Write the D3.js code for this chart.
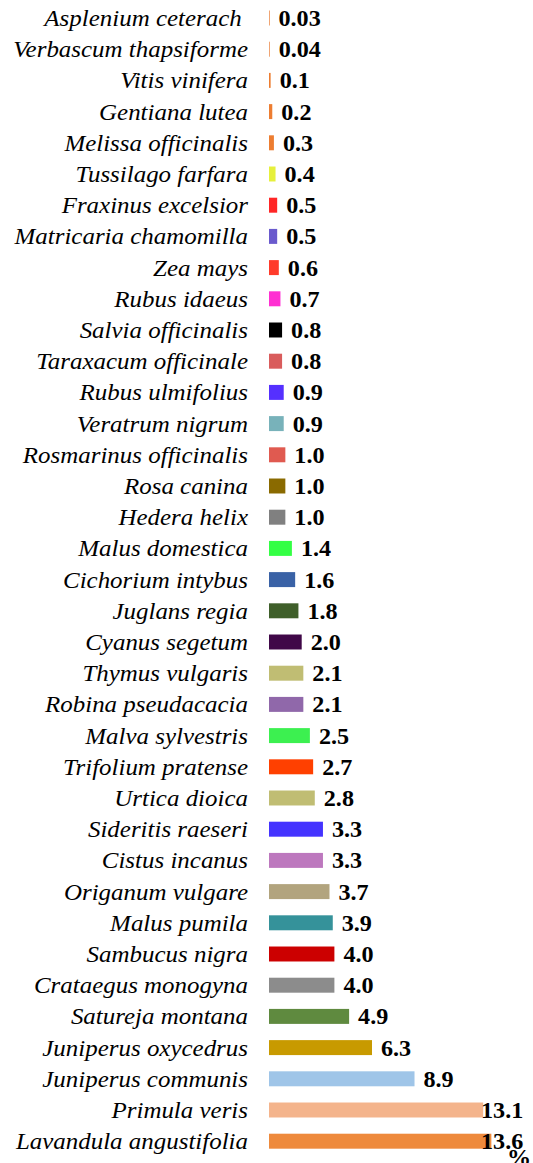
<!DOCTYPE html>
<html>
<head>
<meta charset="utf-8">
<script src="https://cdn.jsdelivr.net/npm/d3@7"></script>
<style>
html,body{margin:0;padding:0;background:#fff;}
svg{display:block;}
</style>
</head>
<body>
<svg id="chart" width="533" height="1163"></svg>
<script>
const categories = [
  "Asplenium ceterach ","Verbascum thapsiforme","Vitis vinifera","Gentiana lutea","Melissa officinalis",
  "Tussilago farfara","Fraxinus excelsior","Matricaria chamomilla","Zea mays","Rubus idaeus",
  "Salvia officinalis","Taraxacum officinale","Rubus ulmifolius","Veratrum nigrum","Rosmarinus officinalis",
  "Rosa canina","Hedera helix","Malus domestica","Cichorium intybus","Juglans regia",
  "Cyanus segetum","Thymus vulgaris","Robina pseudacacia","Malva sylvestris","Trifolium pratense",
  "Urtica dioica","Sideritis raeseri","Cistus incanus","Origanum vulgare","Malus pumila",
  "Sambucus nigra","Crataegus monogyna","Satureja montana","Juniperus oxycedrus","Juniperus communis",
  "Primula veris","Lavandula angustifolia"
];
const values = [
  0.03,0.04,0.1,0.2,0.3,
  0.4,0.5,0.5,0.6,0.7,
  0.8,0.8,0.9,0.9,1.0,
  1.0,1.0,1.4,1.6,1.8,
  2.0,2.1,2.1,2.5,2.7,
  2.8,3.3,3.3,3.7,3.9,
  4.0,4.0,4.9,6.3,8.9,
  13.1,13.6
];
const colors = [
  "#f0a574","#f0a574","#ed7d31","#ed7d31","#ed7d31",
  "#e6f03c","#ff2626","#6a5acd","#ff3b2b","#ff30d2",
  "#000000","#d95c5c","#5530ff","#78b2ba","#e05a50",
  "#8a6a00","#808080","#33ff44","#3a62a6","#3f5f2a",
  "#400848","#c0bd73","#9068aa","#3cf050","#ff4000",
  "#c0bd73","#4433ff","#bd78be","#b2a47e","#35929a",
  "#cc0000","#8c8c8c","#5f8a3f","#c89a00","#9fc5e8",
  "#f4b48c","#ee8a3c"
];
const unitLabel = "%";

const svg = d3.select("#chart");
const x = d3.scaleLinear().domain([0, 14]).range([269, 269 + 14 * 16.35]);
const y = d3.scaleBand().domain(categories).range([2.4, 1156.8]).paddingInner(0.52).paddingOuter(0.26);
const FONT = "'Liberation Serif','Times New Roman',serif";

const rows = svg.selectAll("g.row").data(categories.map((c, i) => ({c, v: values[i], col: colors[i]})))
  .enter().append("g").attr("class", "row");

rows.append("rect")
  .attr("x", x(0))
  .attr("y", d => y(d.c))
  .attr("width", d => Math.max(1, x(d.v) - x(0)))
  .attr("height", y.bandwidth())
  .attr("fill", d => d.col);

rows.append("text")
  .attr("transform", d => `translate(248,${y(d.c) + y.bandwidth() / 2}) scale(1.085,1)`)
  .attr("dy", "0.35em")
  .attr("text-anchor", "end")
  .attr("font-family", FONT)
  .attr("font-style", "italic")
  .attr("font-size", 23)
  .attr("fill", "#000")
  .style("white-space", "pre")
  .text(d => d.c);

rows.append("text")
  .attr("transform", d => `translate(${Math.min(x(d.v) + 9, 481)},${y(d.c) + y.bandwidth() / 2}) scale(1.05,1)`)
  .attr("dy", "0.35em")
  .attr("font-family", FONT)
  .attr("font-weight", "bold")
  .attr("font-size", 23)
  .attr("fill", "#000")
  .text(d => d.v < 0.05 ? d.v.toFixed(2) : d.v.toFixed(1));

svg.append("text")
  .attr("transform", "translate(507,1165) scale(1.05,1)")
  .attr("font-family", FONT)
  .attr("font-weight", "bold")
  .attr("font-size", 23)
  .attr("fill", "#000")
  .text(unitLabel);
</script>
</body>
</html>
